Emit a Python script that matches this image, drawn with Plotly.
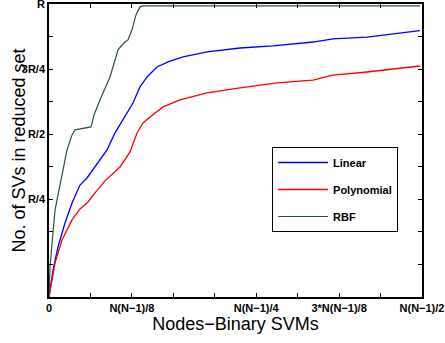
import plotly.graph_objects as go

# x in units of the tick spacing (0..9), y in units of R
lin_x = [0, 0.024, 0.097, 0.217, 0.386, 0.555, 0.748, 0.917, 1.062, 1.231, 1.400, 1.593, 1.834, 2.027,
         2.196, 2.365, 2.606, 2.871, 3.234, 3.813, 4.609, 5.405, 6.371, 6.853, 7.674, 8.95]
lin_y = [-0.125, -0.098, -0.021, 0.067, 0.159, 0.236, 0.305, 0.332, 0.363, 0.401, 0.440, 0.505, 0.566, 0.620,
         0.682, 0.720, 0.758, 0.778, 0.797, 0.816, 0.831, 0.839, 0.854, 0.866, 0.873, 0.898]

poly_x = [0, 0.072, 0.145, 0.314, 0.555, 0.748, 0.941, 1.110, 1.351, 1.713, 1.955, 2.124, 2.268, 2.437,
          2.751, 3.161, 3.813, 4.609, 5.502, 6.371, 6.853, 7.674, 8.95]
poly_y = [-0.125, -0.060, 0.006, 0.094, 0.171, 0.213, 0.240, 0.275, 0.321, 0.374, 0.432, 0.505, 0.543, 0.566,
          0.605, 0.632, 0.659, 0.678, 0.697, 0.708, 0.727, 0.739, 0.762]

rbf_x = [0, 0.024, 0.145, 0.314, 0.434, 0.555, 0.627, 1.014, 1.086, 1.231, 1.472, 1.665, 1.810, 1.906,
         2.003, 2.099, 2.196, 2.268, 8.95]
rbf_y = [-0.125, -0.010, 0.209, 0.344, 0.440, 0.497, 0.517, 0.528, 0.574, 0.632, 0.720, 0.824, 0.851, 0.862,
         0.901, 0.958, 0.989, 0.993, 0.993]

x_tickvals = list(range(10))
x_ticktext = ["0", "", "N(N\u22121)/8", "", "", "N(N\u22121)/4", "", "3*N(N\u22121)/8", "", "N(N\u22121)/2"]
y_tickvals = [0, 0.125, 0.25, 0.375, 0.5, 0.625, 0.75, 0.875, 1.0]
y_ticktext = ["", "", "R/4", "", "R/2", "", "3R/4", "", "R"]

FONT = "Liberation Sans, Arial, sans-serif"

fig = go.Figure()
fig.add_trace(go.Scatter(x=lin_x, y=lin_y, mode="lines", name="Linear", legendgroup="a",
                         line=dict(color="#0000ff", width=1.3)))
fig.add_trace(go.Scatter(x=poly_x, y=poly_y, mode="lines", name="Polynomial", legendgroup="b",
                         line=dict(color="#ff0000", width=1.3)))
fig.add_trace(go.Scatter(x=rbf_x, y=rbf_y, mode="lines", name="RBF", legendgroup="c",
                         line=dict(color="#25553a", width=1.2)))

axis_common = dict(showline=True, linecolor="black", linewidth=1.5, mirror="ticks", ticks="inside",
                   ticklen=4, tickcolor="black", tickwidth=1, showgrid=False, zeroline=False,
                   automargin=False, ticklabeloverflow="allow",
                   tickfont=dict(family=FONT, size=11, color="black", weight="bold"))

fig.update_xaxes(range=[0, 9], tickmode="array", tickvals=x_tickvals, ticktext=x_ticktext,
                 title=dict(text="Nodes\u2212Binary SVMs", font=dict(family=FONT, size=18, color="black"),
                            standoff=1), **axis_common)
fig.update_yaxes(range=[-0.125, 1.0], tickmode="array", tickvals=y_tickvals, ticktext=y_ticktext,
                 **axis_common)

fig.add_annotation(text="No. of SVs in reduced set", xref="paper", yref="paper", x=-0.083, y=0.5,
                   xanchor="center", yanchor="middle", textangle=-90, showarrow=False,
                   font=dict(family=FONT, size=18, color="black"))

fig.update_layout(
    width=445, height=343,
    margin=dict(l=49, r=23, t=4, b=46),
    paper_bgcolor="white", plot_bgcolor="white",
    showlegend=True,
    legend=dict(x=0.598, y=0.512, xanchor="left", yanchor="top", bgcolor="white",
                bordercolor="black", borderwidth=1, tracegroupgap=8, itemwidth=50,
                entrywidth=103, entrywidthmode="pixels",
                font=dict(family=FONT, size=11, color="black", weight="bold")),
)

fig.write_html("out.html", config={"displayModeBar": False},
               post_script="document.body.style.margin='0';document.body.style.padding='0';")
